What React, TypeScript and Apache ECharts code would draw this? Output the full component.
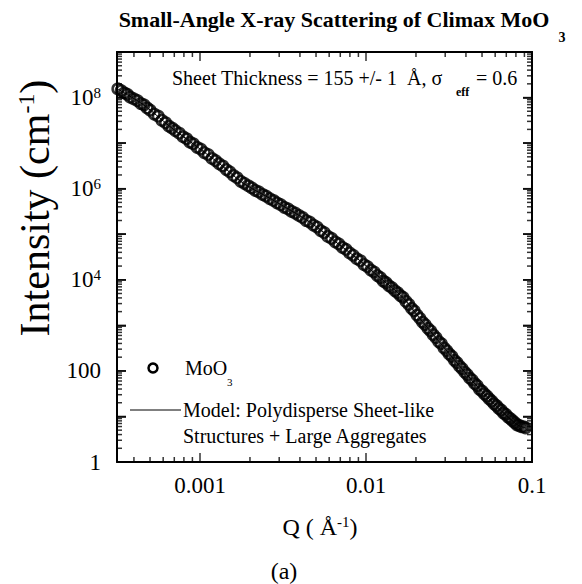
import React, { useEffect, useRef } from "react";
import * as echarts from "echarts";

const qData = [
  0.00032, 0.000335, 0.00035, 0.000365, 0.00038, 0.0004, 0.00042, 0.00044, 0.00046, 0.00048,
  0.0005, 0.00053, 0.00056, 0.00059, 0.00062, 0.00065, 0.00068, 0.00071, 0.00075, 0.00079,
  0.00083, 0.00087, 0.00091, 0.00096, 0.00101, 0.00106, 0.00112, 0.00118, 0.00124, 0.0013,
  0.00137, 0.00144, 0.00151, 0.00159, 0.00167, 0.00176, 0.00185, 0.00195, 0.00205, 0.00215,
  0.00226, 0.00238, 0.0025, 0.00263, 0.00277, 0.00291, 0.00306, 0.00322, 0.00339, 0.00356,
  0.00375, 0.00394, 0.00414, 0.00436, 0.00458, 0.00482, 0.00507, 0.00533, 0.0056, 0.00589,
  0.0062, 0.00652, 0.00685, 0.0072, 0.00757, 0.00796, 0.00837, 0.0088, 0.00925, 0.00973,
  0.0102, 0.0107, 0.0112, 0.0117, 0.0122, 0.0127, 0.0132, 0.0137, 0.0143, 0.0149,
  0.0155, 0.0161, 0.0167, 0.0174, 0.0181, 0.0188, 0.0195, 0.0203, 0.0211, 0.0219,
  0.0227, 0.0236, 0.0245, 0.0254, 0.0264, 0.0274, 0.0284, 0.0295, 0.0306, 0.0317,
  0.0329, 0.0341, 0.0353, 0.0366, 0.0379, 0.0393, 0.0407, 0.0421, 0.0436, 0.0451,
  0.0467, 0.0483, 0.05, 0.0517, 0.0535, 0.0553, 0.0572, 0.0591, 0.0611, 0.0631,
  0.0652, 0.0673, 0.0695, 0.0717, 0.074, 0.0763, 0.0787, 0.0811, 0.0836, 0.0861,
  0.0887, 0.0913,
];

const intensityData = [
  1.55e8, 1.42e8, 1.26e8, 1.18e8, 1.02e8, 9.33e7, 8.6e7, 7.4e7, 6.9e7, 5.9e7,
  5.3e7, 4.35e7, 3.9e7, 3.15e7, 2.8e7, 2.35e7, 2.12e7, 1.88e7, 1.65e7, 1.38e7,
  1.25e7, 1.05e7, 9.7e6, 8.1e6, 7.4e6, 6.2e6, 5.6e6, 4.6e6, 4.15e6, 3.55e6,
  3.15e6, 2.62e6, 2.35e6, 1.95e6, 1.74e6, 1.45e6, 1.31e6, 1.16e6, 1.04e6, 9.2e5,
  8.5e5, 7.45e5, 6.85e5, 6.05e5, 5.5e5, 4.9e5, 4.45e5, 3.9e5, 3.6e5, 3.17e5,
  2.9e5, 2.58e5, 2.33e5, 2.0e5, 1.85e5, 1.59e5, 1.44e5, 1.2e5, 1.09e5, 8.95e4,
  8.1e4, 6.8e4, 6.15e4, 5.15e4, 4.65e4, 3.9e4, 3.45e4, 2.9e4, 2.62e4, 2.15e4,
  1.95e4, 1.63e4, 1.48e4, 1.24e4, 1.12e4, 9400, 8650, 7450, 6750, 5800,
  5200, 4500, 4120, 3350, 2870, 2360, 2080, 1680, 1430, 1180,
  1040, 860, 755, 625, 535, 440, 395, 320, 280, 236,
  208, 171, 151, 127, 112, 94, 83, 70, 63, 53,
  47.5, 39.5, 36, 31.2, 27.9, 24.2, 21.7, 18.9, 17.2, 15,
  13.7, 11.9, 11.1, 9.7, 9.0, 8.05, 7.3, 6.55, 6.4, 5.95,
  5.95, 5.6,
];

const modelQ = [
  0.000316, 0.000457, 0.000661, 0.000912, 0.00132, 0.00182, 0.00263, 0.0038, 0.00479, 0.00631,
  0.00912, 0.012, 0.0166, 0.0209, 0.0282, 0.0372, 0.049, 0.0646, 0.0813, 0.0912,
];
const modelI = [
  1.58e8, 6.92e7, 2.29e7, 9.55e6, 3.47e6, 1.32e6, 6.17e5, 2.82e5, 1.66e5, 7.59e4,
  2.69e4, 1.15e4, 4170, 1480, 398, 120, 38, 13.8, 6.6, 5.6,
];

const xMajorTicks = [0.001, 0.01, 0.1];
const xMinorTicks = [
  0.0004, 0.0005, 0.0006, 0.0007, 0.0008, 0.0009,
  0.002, 0.003, 0.004, 0.005, 0.006, 0.007, 0.008, 0.009,
  0.02, 0.03, 0.04, 0.05, 0.06, 0.07, 0.08, 0.09,
];
const xTickLabels = ["0.001", "0.01", "0.1"];
const yMajorTicks = [1, 10, 100, 1e3, 1e4, 1e5, 1e6, 1e7, 1e8, 1e9];
const yMinorTicks = [
  2, 3, 4, 5, 6, 7, 8, 9,
  20, 30, 40, 50, 60, 70, 80, 90,
  200, 300, 400, 500, 600, 700, 800, 900,
  2e3, 3e3, 4e3, 5e3, 6e3, 7e3, 8e3, 9e3,
  2e4, 3e4, 4e4, 5e4, 6e4, 7e4, 8e4, 9e4,
  2e5, 3e5, 4e5, 5e5, 6e5, 7e5, 8e5, 9e5,
  2e6, 3e6, 4e6, 5e6, 6e6, 7e6, 8e6, 9e6,
  2e7, 3e7, 4e7, 5e7, 6e7, 7e7, 8e7, 9e7,
  2e8, 3e8, 4e8, 5e8, 6e8, 7e8, 8e8, 9e8,
];
const yTickLabels = ["1", "100", "10^4", "10^6", "10^8"];

const SERIF = "Liberation Serif";
const X_MIN = 0.000316228;
const X_MAX = 0.1;
const Y_MIN = 1;
const Y_MAX = 1e9;
const lg = (v: number) => Math.log10(v);

const MAJOR_LEN = 9;
const MINOR_LEN = 5;
const TICK_W = 1.5;

function fmtX(v: number) {
  const r = Math.round(v);
  if (Math.abs(v - r) > 1e-6) return "";
  const s = String(Number(Math.pow(10, r).toPrecision(1)));
  return xTickLabels.indexOf(s) >= 0 ? s : "";
}

function fmtY(v: number) {
  const e = Math.round(v);
  if (Math.abs(v - e) > 1e-6) return "";
  const plain = String(Math.round(Math.pow(10, e)));
  const key = e < 3 ? plain : "10^" + e;
  if (yTickLabels.indexOf(key) < 0) return "";
  if (e < 3) return plain;
  return "{b|10}{s|" + e + "}";
}

export default function App() {
  const ref = useRef<HTMLDivElement>(null);
  useEffect(() => {
    if (!ref.current) return;
    const chart = echarts.init(ref.current, undefined, { renderer: "svg" });
    const xMinL = lg(X_MIN);
    const xMaxL = lg(X_MAX);
    const yMinL = lg(Y_MIN);
    const yMaxL = lg(Y_MAX);

    const points = qData.map((q, i) => [lg(q), lg(intensityData[i])]);
    const model = modelQ.map((q, i) => [lg(q), lg(modelI[i])]);

    const tickItems: any[] = [];
    const addX = (v: number, len: number) => {
      tickItems.push({ value: [lg(v), yMinL], symbolSize: [TICK_W, len], symbolOffset: [0, -len / 2] });
      tickItems.push({ value: [lg(v), yMaxL], symbolSize: [TICK_W, len], symbolOffset: [0, len / 2] });
    };
    const addY = (v: number, len: number) => {
      tickItems.push({ value: [xMinL, lg(v)], symbolSize: [len, TICK_W], symbolOffset: [len / 2, 0] });
      tickItems.push({ value: [xMaxL, lg(v)], symbolSize: [len, TICK_W], symbolOffset: [-len / 2, 0] });
    };
    xMajorTicks.forEach((v) => addX(v, MAJOR_LEN));
    xMinorTicks.forEach((v) => addX(v, MINOR_LEN));
    yMajorTicks.forEach((v) => addY(v, MAJOR_LEN));
    yMinorTicks.forEach((v) => addY(v, MINOR_LEN));

    const frame = [
      [xMinL, yMinL],
      [xMaxL, yMinL],
      [xMaxL, yMaxL],
      [xMinL, yMaxL],
      [xMinL, yMinL],
    ];

    const axisLine = { show: true, onZero: false, lineStyle: { color: "#000", width: 2 } };

    chart.setOption({
      animation: false,
      grid: { left: 117, right: 50, top: 52, bottom: 122 },
      xAxis: [
        {
          type: "value",
          position: "bottom",
          min: -3.5,
          max: -1,
          interval: 0.5,
          axisLine,
          axisTick: { show: false },
          splitLine: { show: false },
          axisLabel: {
            margin: 12,
            color: "#000",
            fontFamily: SERIF,
            fontSize: 23,
            formatter: fmtX,
          },
        },
        {
          type: "value",
          position: "top",
          min: -3.5,
          max: -1,
          interval: 0.5,
          axisLine,
          axisTick: { show: false },
          splitLine: { show: false },
          axisLabel: { show: false },
        },
      ],
      yAxis: [
        {
          type: "value",
          position: "left",
          min: 0,
          max: 9,
          interval: 1,
          axisLine,
          axisTick: { show: true, inside: true, length: MAJOR_LEN, lineStyle: { color: "#000", width: TICK_W } },
          splitLine: { show: false },
          axisLabel: {
            margin: 16,
            color: "#000",
            fontFamily: SERIF,
            fontSize: 23,
            formatter: fmtY,
            rich: {
              b: { fontFamily: SERIF, fontSize: 23, color: "#000" },
              s: { fontFamily: SERIF, fontSize: 15, color: "#000", verticalAlign: "top", padding: [0, 0, 10, 0] },
            },
          },
        },
        {
          type: "value",
          position: "right",
          min: 0,
          max: 9,
          interval: 1,
          axisLine,
          axisTick: { show: true, inside: true, length: MAJOR_LEN, lineStyle: { color: "#000", width: TICK_W } },
          splitLine: { show: false },
          axisLabel: { show: false },
        },
      ],
      series: [
        {
          type: "line",
          data: frame,
          symbol: "none",
          clip: false,
          lineStyle: { color: "#000", width: 2 },
        },
        {
          type: "scatter",
          data: tickItems,
          symbol: "rect",
          clip: false,
          itemStyle: { color: "#000" },
        },
        {
          type: "line",
          data: model,
          symbol: "none",
          smooth: 0.3,
          lineStyle: { color: "#000", width: 1 },
        },
        {
          type: "scatter",
          data: points,
          symbol: "circle",
          symbolSize: 10.5,
          itemStyle: { color: "rgba(0,0,0,0)", borderColor: "#000", borderWidth: 2.5 },
        },
      ],
      graphic: [
        {
          type: "text",
          x: 334,
          y: 19,
          style: {
            text: "Small-Angle X-ray Scattering of Climax MoO",
            fontFamily: SERIF,
            fontWeight: "bold",
            fontSize: 22,
            fill: "#000",
            align: "center",
            verticalAlign: "middle",
          },
        },
        {
          type: "text",
          x: 562,
          y: 37,
          style: { text: "3", fontFamily: SERIF, fontWeight: "bold", fontSize: 14, fill: "#000", align: "center", verticalAlign: "middle" },
        },
        {
          type: "text",
          x: 172,
          y: 78,
          style: { text: "Sheet Thickness = 155 +/- 1  Å, σ", fontFamily: SERIF, fontSize: 20, fill: "#000", align: "left", verticalAlign: "middle" },
        },
        {
          type: "text",
          x: 456,
          y: 92,
          style: { text: "eff", fontFamily: SERIF, fontSize: 12, fontWeight: "bold", fill: "#000", align: "left", verticalAlign: "middle" },
        },
        {
          type: "text",
          x: 476,
          y: 78,
          style: { text: "= 0.6", fontFamily: SERIF, fontSize: 20, fill: "#000", align: "left", verticalAlign: "middle" },
        },
        {
          type: "circle",
          shape: { cx: 153, cy: 368, r: 4.5 },
          style: { fill: "none", stroke: "#000", lineWidth: 2.5 },
        },
        {
          type: "text",
          x: 185,
          y: 368,
          style: { text: "MoO", fontFamily: SERIF, fontSize: 20, fill: "#000", align: "left", verticalAlign: "middle" },
        },
        {
          type: "text",
          x: 227,
          y: 382,
          style: { text: "3", fontFamily: SERIF, fontSize: 11, fill: "#000", align: "left", verticalAlign: "middle" },
        },
        {
          type: "line",
          shape: { x1: 130, y1: 410, x2: 181, y2: 410 },
          style: { stroke: "#000", lineWidth: 1 },
        },
        {
          type: "text",
          x: 183,
          y: 410,
          style: { text: "Model: Polydisperse Sheet-like", fontFamily: SERIF, fontSize: 20, fill: "#000", align: "left", verticalAlign: "middle" },
        },
        {
          type: "text",
          x: 183,
          y: 436,
          style: { text: "Structures + Large Aggregates", fontFamily: SERIF, fontSize: 20, fill: "#000", align: "left", verticalAlign: "middle" },
        },
        {
          type: "text",
          x: 35,
          y: 208,
          rotation: Math.PI / 2,
          style: {
            text: "{a|Intensity (cm}{s|-1}{a|)}",
            align: "center",
            verticalAlign: "middle",
            rich: {
              a: { fontFamily: SERIF, fontSize: 42, fill: "#000" },
              s: { fontFamily: SERIF, fontSize: 24, fill: "#000", verticalAlign: "top", padding: [0, 0, 16, 0] },
            },
          },
        },
        {
          type: "text",
          x: 320,
          y: 527,
          style: {
            text: "{a|Q ( Å}{s|-1}{a|)}",
            align: "center",
            verticalAlign: "middle",
            rich: {
              a: { fontFamily: SERIF, fontSize: 24, fill: "#000" },
              s: { fontFamily: SERIF, fontSize: 15, fill: "#000", verticalAlign: "top", padding: [0, 0, 10, 0] },
            },
          },
        },
        {
          type: "text",
          x: 284,
          y: 571,
          style: { text: "(a)", fontFamily: SERIF, fontSize: 24, fill: "#000", align: "center", verticalAlign: "middle" },
        },
      ],
    });
    return () => chart.dispose();
  }, []);
  return <div ref={ref} style={{ position: "fixed", left: 0, top: 0, width: 582, height: 584, background: "#fff" }} />;
}
